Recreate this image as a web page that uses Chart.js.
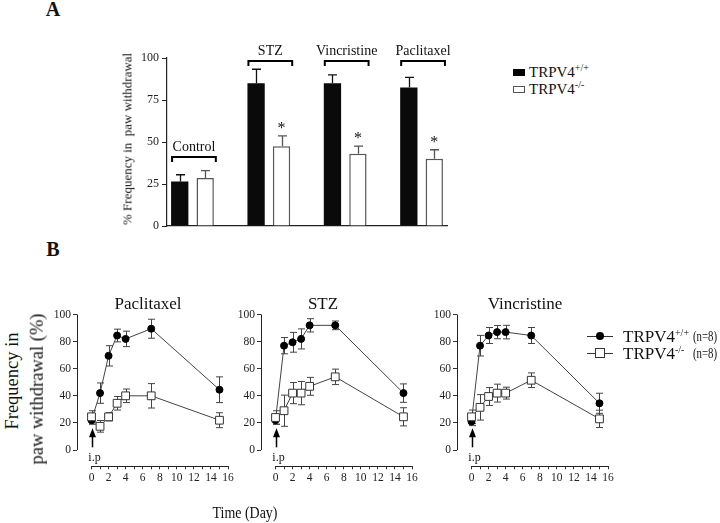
<!DOCTYPE html>
<html>
<head>
<meta charset="utf-8">
<script src="https://cdn.jsdelivr.net/npm/chart.js@4"></script>
<style>
body{margin:0;background:#fff;}
#page{position:relative;width:720px;height:523px;overflow:hidden;font-family:"Liberation Serif","Times New Roman",serif;color:#111;}
canvas{position:absolute;}
.t{position:absolute;white-space:nowrap;line-height:1;}
.c{transform:translate(-50%,-50%);}
.r{transform:translate(-50%,-50%) rotate(-90deg);}
sup{font-size:10px;vertical-align:6px;line-height:0;}
.box{position:absolute;box-sizing:border-box;}
</style>
</head>
<body>
<div id="page">
  <canvas id="chartA" width="360" height="215" style="left:100px;top:30px"></canvas>
  <canvas id="chartPac" width="200" height="200" style="left:40px;top:290px"></canvas>
  <canvas id="chartStz" width="200" height="200" style="left:224px;top:290px"></canvas>
  <canvas id="chartVin" width="200" height="200" style="left:420px;top:290px"></canvas>

  <div class="t c" style="left:53px;top:9px;font-size:20px;font-weight:bold">A</div>
  <div class="t c" style="left:53px;top:249px;font-size:20px;font-weight:bold">B</div>

  <div class="t r" style="left:127px;top:139px;font-size:13px">% Frequency in&nbsp; paw withdrawal</div>

  <!-- leyenda A -->
  <div class="box" style="left:513px;top:69px;width:12px;height:7px;background:#000"></div>
  <div class="t" style="left:529px;top:65px;font-size:15px">TRPV4<sup>+/+</sup></div>
  <div class="box" style="left:513px;top:86px;width:12px;height:7px;background:#fff;border:1px solid #555"></div>
  <div class="t" style="left:529px;top:82px;font-size:15px">TRPV4<sup>-/-</sup></div>

  <!-- titulos B -->
  <div class="t c" style="left:148px;top:303px;font-size:17px">Paclitaxel</div>
  <div class="t c" style="left:323px;top:303px;font-size:17px">STZ</div>
  <div class="t c" style="left:525px;top:303px;font-size:17px">Vincristine</div>

  <div class="t r" style="left:12px;top:381px;font-size:18.5px">Frequency in</div>
  <div class="t r" style="left:37px;top:389px;font-size:18.5px">paw withdrawal (%)</div>
  <div class="t c" style="left:245px;top:512px;font-size:17px;transform:translate(-50%,-50%) scaleX(0.82)">Time (Day)</div>

  <!-- leyenda B -->
  <div class="box" style="left:587px;top:336px;width:26px;height:1px;background:#333"></div>
  <div class="box" style="left:596px;top:332px;width:8px;height:8px;border-radius:50%;background:#000"></div>
  <div class="t" style="left:623px;top:328px;font-size:17px">TRPV4<sup>+/+</sup></div>
  <div class="t" style="left:693px;top:329px;font-size:15px;transform:scaleX(0.72);transform-origin:left">(n=8)</div>
  <div class="box" style="left:587px;top:353px;width:26px;height:1px;background:#333"></div>
  <div class="box" style="left:595px;top:348px;width:10px;height:10px;background:#fff;border:1px solid #333"></div>
  <div class="t" style="left:623px;top:345px;font-size:17px">TRPV4<sup>-/-</sup></div>
  <div class="t" style="left:693px;top:346px;font-size:15px;transform:scaleX(0.72);transform-origin:left">(n=8)</div>
</div>

<script>
// ---- datos panel A ----
const grupos = ['Control', 'STZ', 'Vincristine', 'Paclitaxel'];
const wildA = [26.5, 85, 85, 82.5];
const wildAErr = [4, 8.3, 5, 6];
const koA = [28.5, 47.5, 43, 40];
const koAErr = [4.5, 6.2, 4.5, 5.4];
const signifA = [false, true, true, true];
const ticksA = [0, 25, 50, 75, 100];

// ---- datos panel B ----
const dias = [0, 1, 2, 3, 4, 7, 15];
const pacWild = [22, 42, 69.5, 84.5, 82, 89.5, 44.5];
const pacWildErr = [3, 7.5, 7.5, 4.7, 5.7, 7, 9.5];
const pacKo = [24.5, 17.5, 24.5, 34.5, 40, 40, 22];
const pacKoErr = [4.5, 4.3, 3, 5, 5, 9, 5.5];
const stzWild = [22, 77, 79.5, 82, 92, 92, 42];
const stzWildErr = [3, 6, 7.3, 7.4, 4.9, 3.2, 6.8];
const stzKo = [24, 29, 42, 42, 47, 54, 24.5];
const stzKoErr = [5, 11.5, 7.8, 8.6, 6.6, 5.7, 6.7];
const vinWild = [21, 77, 84.5, 87, 87, 84.5, 34.5];
const vinWildErr = [3, 7.6, 5.9, 4.9, 5, 5.9, 7.4];
const vinKo = [24.5, 31.5, 39.5, 42, 42, 51.5, 23];
const vinKoErr = [5, 9.4, 6.6, 6.6, 4.4, 5.4, 6.4];
const ticksB = [0, 20, 40, 60, 80, 100];
const ticksDias = [0, 1, 2, 3, 4, 5, 6, 7, 8, 9, 10, 11, 12, 13, 14, 15, 16];

const serif = 'Liberation Serif';
Chart.defaults.font.family = serif;
Chart.defaults.color = '#222';
Chart.defaults.animation = false;

const valorY = d => (d !== null && typeof d === 'object') ? d.y : d;

// barras de error (arriba solo en A, ambos lados en B)
const pintarErrores = (chart, soloArriba, cap) => {
    const {ctx} = chart;
    const yScale = chart.scales.y;
    chart.data.datasets.forEach((ds, i) => {
        if (!ds.errores) return;
        const meta = chart.getDatasetMeta(i);
        ctx.save();
        ctx.strokeStyle = ds.colorError;
        ctx.lineWidth = ds.anchoError;
        meta.data.forEach((el, j) => {
            const err = ds.errores[j];
            if (err == null) return;
            const v = valorY(ds.data[j]);
            const top = yScale.getPixelForValue(v + err);
            const bot = soloArriba ? el.y : yScale.getPixelForValue(v - err);
            const x = Math.round(el.x) + 0.5;
            ctx.beginPath();
            ctx.moveTo(x, bot); ctx.lineTo(x, top);
            ctx.moveTo(x - cap, top); ctx.lineTo(x + cap, top);
            if (!soloArriba) { ctx.moveTo(x - cap, bot); ctx.lineTo(x + cap, bot); }
            ctx.stroke();
        });
        ctx.restore();
    });
};

// ---------- panel A ----------
const slots = 11;
const aSlots = (vals, off) => {
    const arr = new Array(slots).fill(null);
    vals.forEach((v, g) => arr[3 * g + off] = v);
    return arr;
};

const corchetesA = {
    id: 'corchetesA',
    afterDatasetsDraw(chart) {
        pintarErrores(chart, true, 4.5);
        const {ctx, scales: {y}} = chart;
        const mW = chart.getDatasetMeta(0), mK = chart.getDatasetMeta(1);
        const nivel = [41, 98, 98, 98];
        ctx.save();
        ctx.strokeStyle = '#000';
        ctx.fillStyle = '#111';
        ctx.lineWidth = 2;
        ctx.textAlign = 'center';
        grupos.forEach((g, k) => {
            const bl = mW.data[3 * k], br = mK.data[3 * k + 1];
            const left = bl.x - bl.width / 2 + 1;
            const right = br.x + br.width / 2 + 2;
            const yb = Math.round(y.getPixelForValue(nivel[k]));
            ctx.beginPath();
            ctx.moveTo(left, yb + 5); ctx.lineTo(left, yb); ctx.lineTo(right, yb); ctx.lineTo(right, yb + 5);
            ctx.stroke();
            ctx.font = '14px ' + serif;
            ctx.textBaseline = 'alphabetic';
            ctx.fillText(g, (left + right) / 2, yb - 6);
            if (signifA[k]) {
                const top = y.getPixelForValue(koA[k] + koAErr[k]);
                ctx.font = '16px ' + serif;
                ctx.fillText('*', br.x, top - 3);
            }
        });
        ctx.restore();
    }
};

new Chart(document.getElementById('chartA'), {
    type: 'bar',
    data: {
        labels: new Array(slots).fill(''),
        datasets: [{
            data: aSlots(wildA, 0),
            errores: aSlots(wildAErr, 0),
            colorError: '#111', anchoError: 1.3,
            backgroundColor: '#0a0a0a',
            borderWidth: 0
        }, {
            data: aSlots(koA, 1),
            errores: aSlots(koAErr, 1),
            colorError: '#555', anchoError: 1.3,
            backgroundColor: '#fff',
            borderColor: '#555',
            borderWidth: 1.5
        }]
    },
    options: {
        responsive: false,
        grouped: false,
        barPercentage: 0.68,
        categoryPercentage: 1,
        layout: {padding: {top: 28, right: 13, left: 0, bottom: 0}},
        plugins: {legend: {display: false}, tooltip: {enabled: false}},
        scales: {
            x: {
                afterFit: s => { s.height = 19; },
                grid: {display: false},
                ticks: {display: false},
                border: {color: '#222', width: 1.2}
            },
            y: {
                min: 0, max: 100,
                afterBuildTicks: s => { s.ticks = ticksA.map(v => ({value: v})); },
                afterFit: s => { s.width = 67; },
                grid: {drawOnChartArea: false, tickLength: 5, color: '#222'},
                border: {color: '#222', width: 1.2},
                ticks: {font: {size: 12}, color: '#222', padding: 3}
            }
        }
    },
    plugins: [corchetesA]
});

// ---------- panel B ----------
const ejesB = {
    id: 'ejesB',
    beforeDatasetsDraw(chart) {
        pintarErrores(chart, false, 3.5);
    },
    afterDraw(chart) {
        const {ctx, chartArea, scales: {x, y}} = chart;
        ctx.save();
        ctx.strokeStyle = '#222';
        ctx.lineWidth = 1;
        const xl = Math.round(chartArea.left) + 0.5;
        const yb = Math.round(chartArea.bottom) + 0.5;
        ctx.beginPath();
        ctx.moveTo(xl, y.getPixelForValue(0)); ctx.lineTo(xl, y.getPixelForValue(100));
        ctx.moveTo(x.getPixelForValue(0), yb); ctx.lineTo(x.getPixelForValue(16), yb);
        ctx.stroke();
        // flecha i.p
        const x0 = Math.round(x.getPixelForValue(0)) + 0.5;
        const tip = y.getPixelForValue(16), base = y.getPixelForValue(2);
        ctx.lineWidth = 1.5;
        ctx.strokeStyle = '#000';
        ctx.fillStyle = '#000';
        ctx.beginPath();
        ctx.moveTo(x0, base); ctx.lineTo(x0, tip + 6);
        ctx.stroke();
        ctx.beginPath();
        ctx.moveTo(x0, tip); ctx.lineTo(x0 - 3.5, tip + 9); ctx.lineTo(x0 + 3.5, tip + 9);
        ctx.closePath();
        ctx.fill();
        ctx.font = '12px ' + serif;
        ctx.fillStyle = '#111';
        ctx.textAlign = 'center';
        ctx.textBaseline = 'middle';
        ctx.fillText('i.p', x0 + 2, y.getPixelForValue(-5.5));
        ctx.restore();
    }
};

const puntos = vals => dias.map((d, i) => ({x: d, y: vals[i]}));

const graficoB = (id, wild, wildErr, ko, koErr) => {
    new Chart(document.getElementById(id), {
        type: 'line',
        data: {
            datasets: [{
                data: puntos(wild),
                errores: wildErr,
                colorError: '#444', anchoError: 1,
                borderColor: '#444', borderWidth: 1,
                pointStyle: 'circle', pointRadius: 3.5, pointBorderWidth: 1,
                pointBackgroundColor: '#000', pointBorderColor: '#000',
                tension: 0, order: 1
            }, {
                data: puntos(ko),
                errores: koErr,
                colorError: '#444', anchoError: 1,
                borderColor: '#444', borderWidth: 1,
                pointStyle: 'rect', pointRadius: 5.5,
                pointBackgroundColor: '#fff', pointBorderColor: '#333', pointBorderWidth: 1,
                tension: 0, order: 0
            }]
        },
        options: {
            responsive: false,
            layout: {padding: {top: 24.5, right: 12, left: 0, bottom: 0}},
            plugins: {legend: {display: false}, tooltip: {enabled: false}},
            scales: {
                x: {
                    type: 'linear', min: -1.7, max: 16,
                    afterBuildTicks: s => { s.ticks = ticksDias.map(v => ({value: v})); },
                    afterFit: s => { s.height = 23.7; },
                    grid: {drawOnChartArea: false, tickLength: 3, color: '#333'},
                    border: {display: false},
                    ticks: {
                        autoSkip: false, maxRotation: 0, padding: 2,
                        font: {size: 11.5}, color: '#222',
                        callback: v => v % 2 === 0 ? v : ''
                    }
                },
                y: {
                    min: -12, max: 100,
                    afterBuildTicks: s => { s.ticks = ticksB.map(v => ({value: v})); },
                    afterFit: s => { s.width = 37; },
                    grid: {drawOnChartArea: false, tickLength: 4, color: '#333'},
                    border: {display: false},
                    ticks: {font: {size: 11.5}, color: '#222', padding: 2}
                }
            }
        },
        plugins: [ejesB]
    });
};

graficoB('chartPac', pacWild, pacWildErr, pacKo, pacKoErr);
graficoB('chartStz', stzWild, stzWildErr, stzKo, stzKoErr);
graficoB('chartVin', vinWild, vinWildErr, vinKo, vinKoErr);
</script>
</body>
</html>
